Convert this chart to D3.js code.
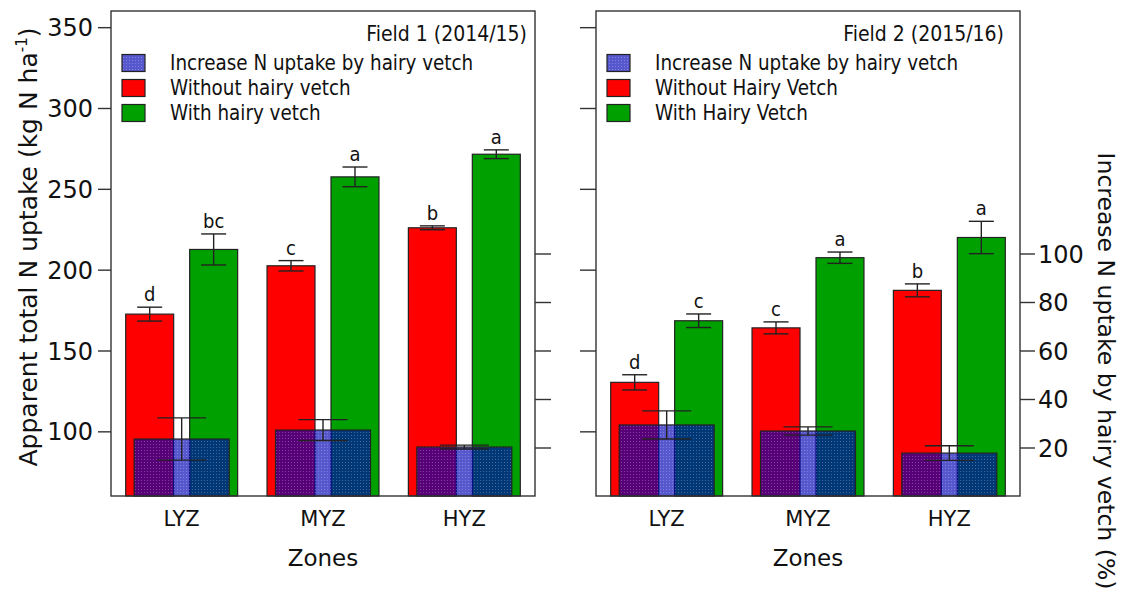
<!DOCTYPE html>
<html>
<head>
<meta charset="utf-8">
<script src="https://cdn.jsdelivr.net/npm/d3@7"></script>
<style>
  body { margin: 0; background: #fff; }
  svg { display: block; font-family: "DejaVu Sans Condensed", "DejaVu Sans", sans-serif; font-stretch: condensed; }
  .wide { font-family: "DejaVu Sans", sans-serif; font-stretch: normal; }
</style>
</head>
<body>
<svg id="chart" width="1125" height="597"></svg>
<script>
// ---- data ----
const zones = ["LYZ", "MYZ", "HYZ"];

// Field 1 (2014/15): apparent total N uptake, kg N/ha
const field1Without = [172.5, 202.4, 225.9];
const field1WithoutErr = [4.3, 3.2, 1.2];
const field1With = [212.5, 257.4, 271.4];
const field1WithErr = [9.6, 6.1, 2.7];
// increase in N uptake by hairy vetch, %
const field1Increase = [23.5, 27.2, 20.2];
const field1IncreaseErr = [8.7, 4.3, 0.8];
const field1Letters = ["d", "bc", "c", "a", "b", "a"];

// Field 2 (2015/16)
const field2Without = [130.3, 164.0, 187.2];
const field2WithoutErr = [4.7, 3.7, 4.0];
const field2With = [168.4, 207.4, 219.9];
const field2WithErr = [4.2, 3.5, 10.0];
const field2Increase = [29.3, 26.8, 17.7];
const field2IncreaseErr = [5.8, 1.7, 3.0];
const field2Letters = ["d", "c", "c", "a", "b", "a"];

const leftTicks = [100, 150, 200, 250, 300, 350];
const rightTicks = [20, 40, 60, 80, 100];

const field1Legend = ["Increase N uptake by hairy vetch", "Without hairy vetch", "With hairy vetch"];
const field2Legend = ["Increase N uptake by hairy vetch", "Without Hairy Vetch", "With Hairy Vetch"];

// ---- layout ----
const svg = d3.select("#chart");
const plotTop = 11, plotBottom = 496;
const yLeft = d3.scaleLinear().domain([60, 360]).range([plotBottom, plotTop]);
const yRight = d3.scaleLinear().domain([0, 200]).range([plotBottom, plotTop]);

const RED = "#ff0000", GREEN = "#00a000", EDGE = "#222", AXIS = "#333", INK = "#111";

const defs = svg.append("defs");
const pat = defs.append("pattern").attr("id", "incFill")
  .attr("patternUnits", "userSpaceOnUse").attr("width", 3).attr("height", 3);
pat.append("rect").attr("width", 3).attr("height", 3)
  .attr("fill", "rgb(0,0,180)").attr("fill-opacity", 0.66);
pat.append("rect").attr("width", 1).attr("height", 1)
  .attr("fill", "#fff").attr("fill-opacity", 0.25);

const panels = [
  { x0: 111, x1: 535, title: "Field 1 (2014/15)", titleX: 527,
    without: field1Without, withoutErr: field1WithoutErr,
    withV: field1With, withErr: field1WithErr,
    inc: field1Increase, incErr: field1IncreaseErr,
    letters: field1Letters, legend: field1Legend, leftLabels: true, rightLabels: false },
  { x0: 596, x1: 1020, title: "Field 2 (2015/16)", titleX: 1004,
    without: field2Without, withoutErr: field2WithoutErr,
    withV: field2With, withErr: field2WithErr,
    inc: field2Increase, incErr: field2IncreaseErr,
    letters: field2Letters, legend: field2Legend, leftLabels: false, rightLabels: true }
];

panels.forEach(p => {
  const g = svg.append("g");
  const x = d3.scaleBand().domain(zones).range([p.x0, p.x1]).paddingInner(0).paddingOuter(0);
  const bw = x.bandwidth();
  const sub = d3.scaleBand().domain(["without", "with"])
    .range([-0.396 * bw, 0.396 * bw]).paddingInner(0.25);
  const incW = 0.672 * bw;

  // red / green bars
  const series = [
    { key: "without", vals: p.without, errs: p.withoutErr, color: RED },
    { key: "with", vals: p.withV, errs: p.withErr, color: GREEN }
  ];
  series.forEach(s => {
    g.selectAll(null).data(zones).join("rect")
      .attr("x", (z) => x(z) + bw / 2 + sub(s.key))
      .attr("width", sub.bandwidth())
      .attr("y", (z, i) => yLeft(s.vals[i]))
      .attr("height", (z, i) => yLeft.range()[0] - yLeft(s.vals[i]))
      .attr("fill", s.color).attr("stroke", EDGE).attr("stroke-width", 1.2);
  });

  // increase bars (right-hand % scale), translucent overlay
  g.selectAll(null).data(zones).join("rect")
    .attr("x", z => x(z) + bw / 2 - incW / 2)
    .attr("width", incW)
    .attr("y", (z, i) => yRight(p.inc[i]))
    .attr("height", (z, i) => yRight(0) - yRight(p.inc[i]))
    .attr("fill", "url(#incFill)").attr("stroke", EDGE).attr("stroke-width", 1.2);

  // error bars
  const errG = g.append("g").attr("stroke", EDGE).attr("stroke-width", 1.4).attr("fill", "none");
  function errBar(cx, yHi, yLo, half) {
    errG.append("line").attr("x1", cx).attr("x2", cx).attr("y1", yHi).attr("y2", yLo);
    errG.append("line").attr("x1", cx - half).attr("x2", cx + half).attr("y1", yHi).attr("y2", yHi);
    errG.append("line").attr("x1", cx - half).attr("x2", cx + half).attr("y1", yLo).attr("y2", yLo);
  }
  series.forEach((s, si) => {
    zones.forEach((z, i) => {
      const cx = x(z) + bw / 2 + sub(s.key) + sub.bandwidth() / 2;
      const hi = yLeft(s.vals[i] + s.errs[i]);
      errBar(cx, hi, yLeft(s.vals[i] - s.errs[i]), 12.5);
      g.append("text").attr("x", cx).attr("y", hi - 6)
        .attr("text-anchor", "middle").attr("font-size", 20).attr("fill", INK)
        .text(p.letters[i * 2 + si]);
    });
  });
  zones.forEach((z, i) => {
    const cx = x(z) + bw / 2;
    errBar(cx, yRight(p.inc[i] + p.incErr[i]), yRight(p.inc[i] - p.incErr[i]), 24.5);
  });

  // frame
  g.append("rect").attr("x", p.x0).attr("y", plotTop).attr("width", p.x1 - p.x0).attr("height", plotBottom - plotTop)
    .attr("fill", "none").attr("stroke", AXIS).attr("stroke-width", 1.4);

  // left axis (kg N/ha)
  const aL = d3.axisLeft(yLeft).tickValues(leftTicks).tickSizeOuter(0)
    .tickSize(p.leftLabels ? 13 : 16).tickPadding(5);
  if (!p.leftLabels) aL.tickFormat("");
  const gl = g.append("g").attr("transform", `translate(${p.x0},0)`).call(aL);
  gl.select(".domain").remove();
  gl.selectAll("line").attr("stroke", AXIS).attr("stroke-width", 1.4);
  gl.attr("font-family", null).attr("font-size", 24).attr("class", "wide");
  gl.selectAll("text").attr("fill", INK).attr("dy", "0.36em");

  // right axis (%)
  const aR = d3.axisRight(yRight).tickValues(rightTicks).tickSizeOuter(0)
    .tickSize(p.rightLabels ? 15 : 16).tickPadding(3);
  if (!p.rightLabels) aR.tickFormat("");
  const gr = g.append("g").attr("transform", `translate(${p.x1},0)`).call(aR);
  gr.select(".domain").remove();
  gr.selectAll("line").attr("stroke", AXIS).attr("stroke-width", 1.4);
  gr.attr("font-family", null).attr("font-size", 24).attr("class", "wide");
  gr.selectAll("text").attr("fill", INK).attr("dy", "0.36em");

  // x axis labels
  const ax = d3.axisBottom(x).tickSize(0).tickPadding(15);
  const gx = g.append("g").attr("transform", `translate(0,${plotBottom})`).call(ax);
  gx.select(".domain").remove();
  gx.attr("font-family", null).attr("font-size", 21).attr("class", "wide");
  gx.selectAll("text").attr("fill", INK);

  g.append("text").attr("class", "wide").attr("x", (p.x0 + p.x1) / 2).attr("y", 566)
    .attr("text-anchor", "middle").attr("font-size", 23).attr("fill", INK).text("Zones");

  // title + legend
  g.append("text").attr("x", p.titleX).attr("y", 41).attr("text-anchor", "end")
    .attr("font-size", 21).attr("fill", INK).text(p.title);
  const fills = ["url(#incFill)", RED, GREEN];
  p.legend.forEach((lab, i) => {
    const cy = 63 + i * 25;
    g.append("rect").attr("x", p.x0 + 11).attr("y", cy - 8.5).attr("width", 23).attr("height", 17)
      .attr("fill", fills[i]).attr("stroke", EDGE).attr("stroke-width", 1.2);
    g.append("text").attr("x", p.x0 + 59).attr("y", cy + 7)
      .attr("font-size", 20.4).attr("fill", INK).text(lab);
  });
});

// axis titles
const lt = svg.append("text").attr("class", "wide").attr("transform", "translate(37,247) rotate(-90)")
  .attr("text-anchor", "middle").attr("font-size", 25).attr("fill", INK);
lt.append("tspan").text("Apparent total N uptake (kg N ha");
lt.append("tspan").attr("font-size", 15).attr("dy", -10).text("-1");
lt.append("tspan").attr("dy", 10).text(")");

svg.append("text").attr("class", "wide").attr("transform", "translate(1098,371) rotate(90)")
  .attr("text-anchor", "middle").attr("font-size", 23.5).attr("fill", INK)
  .text("Increase N uptake by hairy vetch (%)");
</script>
</body>
</html>
